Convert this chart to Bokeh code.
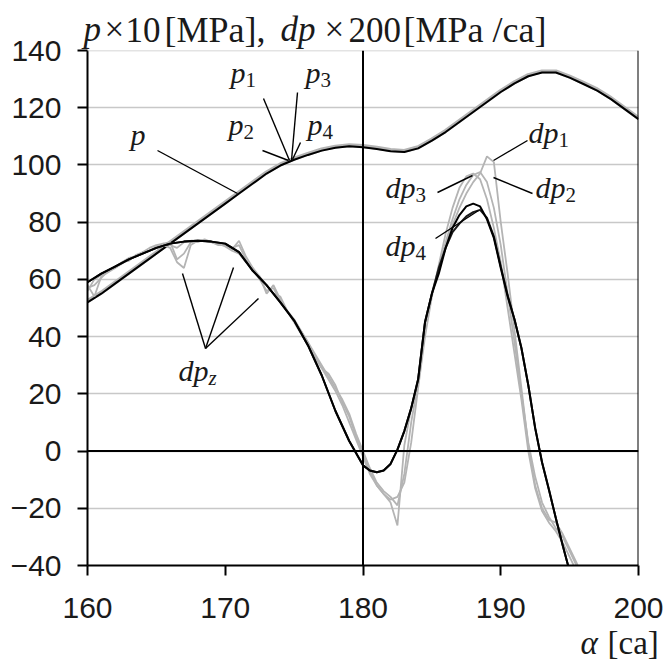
from bokeh.plotting import figure
from bokeh.models import Span, FixedTicker
from bokeh.core.properties import value
from bokeh.embed import file_html
from bokeh.resources import INLINE

# ---------------- data ----------------
p_x = [160, 161, 162, 163, 164, 165, 166, 167, 168, 169, 170, 171, 172, 173, 174, 175,
       176, 177, 178, 179, 180, 181, 182, 183, 184, 185, 186, 187, 188, 189, 190, 191,
       192, 193, 194, 195, 196, 197, 198, 199, 200]
p_y = [52, 55, 58.5, 62, 65.5, 69, 72.5, 76, 79.5, 83, 86.5, 90, 93.5, 97, 99.8, 101.8,
       103.5, 105, 106, 106.5, 106.2, 105.6, 104.8, 104.5, 105.8, 108.5, 111.5, 115, 118.5,
       122, 125.5, 128.5, 131, 132.3, 132.3, 130.5, 128.3, 126, 123, 119.5, 116]

dpz_x = [160, 161, 162, 163, 164, 165, 166, 167, 168, 169, 170, 171, 172, 172.5, 173, 174,
         175, 176, 177, 178, 179, 180, 180.5, 181, 181.5, 182, 182.5, 183, 183.5, 184,
         184.5, 185, 185.5, 186, 186.5, 187, 187.5, 188, 188.5, 189, 189.5, 190, 190.5,
         191, 191.5, 192, 192.5, 193, 193.5, 194, 194.5, 195]
dpz_y = [59, 62, 64.5, 67, 69, 71, 72.5, 73.2, 73.5, 73.2, 72.5, 69.5, 63, 60.5, 58, 52,
         45.6, 37, 26.5, 14, 3.5, -5, -6.8, -7.4, -6.8, -4.5, 0.5, 7, 15, 25,
         45, 55, 62, 71, 78, 82.5, 85.5, 86.5, 85.5, 81, 74.5, 64, 54,
         46, 36, 23, 8, -4, -13.5, -23.5, -33, -42]

dp4_x = [160, 161, 162, 163, 164, 165, 166, 167, 168, 169, 170, 171, 172, 172.5, 173, 174,
         175, 176, 177, 178, 179, 180, 180.5, 181, 181.5, 182, 182.5, 183, 183.5, 184,
         184.5, 185, 185.5, 186, 186.5, 187, 187.5, 188, 188.5, 189, 189.5, 190, 190.5,
         191, 191.5, 192, 192.5, 193, 193.5, 194, 194.5, 195]
dp4_y = [59, 62, 64.5, 67, 69, 71, 72.5, 73.2, 73.5, 73.2, 72.5, 69.5, 63, 60.5, 58, 52,
         45.6, 37, 26.5, 14, 3.5, -5, -6.8, -7.4, -6.8, -4.5, 0.5, 7, 15, 25,
         45, 55, 64, 71, 76.5, 79.5, 82, 83.5, 84.3, 81.5, 75, 64.5, 54.5,
         46, 36, 23, 8, -4, -13.5, -23.5, -33, -42]

dpg_x = [160, 160.5, 161, 161.5, 162, 162.5, 163, 163.5, 164, 164.5, 165, 165.5, 166, 166.5,
         167, 167.5, 168, 168.5, 169, 169.5, 170, 170.5, 171, 171.5, 172, 172.5, 173, 173.5,
         174, 174.5, 175, 175.5, 176, 176.5, 177, 177.5, 178, 178.5, 179, 179.5, 180, 180.5,
         181, 181.5, 182, 182.5, 183, 183.5, 184, 184.5, 185, 185.5, 186, 186.5, 187, 187.5,
         188, 188.5, 189, 189.5, 190, 190.5, 191, 191.5, 192, 192.5, 193, 193.5, 194, 194.5,
         195, 195.5, 196]
dp1_y = [58, 54, 61, 62.5, 64, 65.5, 67, 68, 69, 70, 71, 72.5, 72, 71,
         73, 73.5, 73.5, 73.5, 73, 72.5, 72, 70.5, 73.5, 68, 64, 61, 58, 55,
         54, 49, 46, 42, 38, 33, 29, 27, 23, 17, 12, 5, -1, -7,
         -12, -15, -18, -26, 2, 15, 25, 45, 55, 63, 72, 79, 85, 90,
         94, 97, 103, 101, 80, 62, 42, 22, 2, -12, -20, -24, -25, -29,
         -34, -39, -45]
dp2_y = [57, 58, 60.5, 63, 64.5, 66, 66.5, 68.5, 69.5, 70, 71.5, 72, 71, 66,
         64, 72, 73.5, 73.5, 73, 72.5, 71.5, 70, 69, 66, 64, 60, 56, 57,
         52, 49, 46, 42, 38, 34, 30, 26, 22, 18, 13, 6, 0, -6,
         -11, -14, -16, -19, -8, 10, 24, 44, 55, 64, 73, 81, 88, 93,
         96.5, 97.5, 94, 85, 72, 55, 38, 20, 3, -9, -18, -23, -27, -30,
         -35, -40, -46]
dp3_y = [56, 60, 61.5, 63, 64, 66, 67.5, 68, 69.5, 71, 72, 72.5, 73, 67,
         69, 73, 73, 74, 73, 72, 72, 71, 72, 67, 63, 61, 55, 58,
         53, 49, 45, 41, 37, 33, 29, 25, 21, 16, 10, 4, -2, -8,
         -12, -15, -17, -16, -11, 3, 22, 40, 54, 65, 76, 85, 92, 96,
         97, 95, 88, 78, 66, 50, 34, 18, 0, -13, -21, -25, -28, -32,
         -37, -42, -47]

x_ticks = [160, 170, 180, 190, 200]
y_ticks = [-40, -20, 0, 20, 40, 60, 80, 100, 120, 140]

# --------------- layout helpers (pixel -> data) ---------------
FL, FR, FT, FB = 87, 638, 50, 565
W, H = 666, 659
TEXT_DY = -8  # compensation for the text glyph's baseline placement


def dx(px):
    return 160 + (px - FL) * 40.0 / (FR - FL)


def dy(py):
    return 140 - (py - FT) * 180.0 / (FB - FT)


p = figure(width=W, height=H, frame_width=FR - FL, frame_height=FB - FT,
           min_border_left=FL, min_border_right=W - FR, min_border_top=FT,
           min_border_bottom=H - FB, x_range=(160, 200), y_range=(-40, 140),
           output_backend="svg", toolbar_location=None, tools="",
           background_fill_color="white", border_fill_color="white")
p.outline_line_color = None
p.xgrid.grid_line_color = None
p.ygrid.grid_line_color = "#c8c8c8"
p.ygrid.grid_line_width = 1.5

TICK_FONT = "Liberation Sans"
for ax in (p.xaxis[0], p.yaxis[0]):
    ax.axis_line_color = "black"
    ax.axis_line_width = 2
    ax.major_tick_line_color = "black"
    ax.major_tick_line_width = 2
    ax.major_tick_out = 10
    ax.major_tick_in = 0
    ax.minor_tick_line_color = None
    ax.major_label_text_font = TICK_FONT
    ax.major_label_text_font_size = "30px"
    ax.major_label_text_color = "#1a1a1a"
p.xaxis[0].ticker = FixedTicker(ticks=x_ticks)
p.yaxis[0].ticker = FixedTicker(ticks=y_ticks)
p.yaxis[0].major_label_standoff = 16
p.xaxis[0].major_label_standoff = 22

p.add_layout(Span(location=140, dimension="width", line_color="#c8c8c8", line_width=1.5))
p.add_layout(Span(location=180, dimension="height", line_color="black", line_width=2))
p.add_layout(Span(location=0, dimension="width", line_color="black", line_width=2))
p.add_layout(Span(location=200, dimension="height", line_color="black", line_width=2))

GRAY = "#b4b4b4"
# pressure curves p1..p4 (grey, almost identical) and p (black)
p.line(p_x, [y + 0.4 for y in p_y], line_color=GRAY, line_width=4)
p.line(p_x, p_y, line_color="black", line_width=2)

# derivative curves
for ys in (dp1_y, dp2_y, dp3_y):
    p.line(dpg_x, ys, line_color=GRAY, line_width=1.8)
p.line(dp4_x, dp4_y, line_color="#1a1a1a", line_width=2)
p.line(dpz_x, dpz_y, line_color="black", line_width=2)

# ---------------- texts (overlay level, so they are not clipped) ----------------
SERIF = "Liberation Serif"
TXT = "#1a1a1a"


def lab(px, py, text, size=30, italic=True):
    p.text(x=[dx(px)], y=[dy(py + TEXT_DY)], text=[text], text_font=value(SERIF),
           text_font_style="italic" if italic else "normal",
           text_font_size=f"{size}px", text_color=TXT,
           text_baseline="alphabetic", text_align="left", level="overlay")


def sub_label(px, py, main, sub, sub_italic=False, main_w=None):
    lab(px, py, main, 30, True)
    w = main_w if main_w is not None else 15 * len(main)
    lab(px + w, py + 7, sub, 21, sub_italic)


def pointer(x0, y0, x1, y1):
    p.line([dx(x0), dx(x1)], [dy(y0), dy(y1)], line_color="black", line_width=1.4)


# title
lab(83, 37, "p", 35, True)
lab(104, 37, "\u00d7", 35, False)
lab(125, 37, "10", 35, False)
lab(164, 37, "[MPa],", 36, False)
lab(280, 37, "dp", 35, True)
lab(324, 37, "\u00d7", 35, False)
lab(348, 37, "200", 35, False)
lab(403, 37, "[MPa /ca]", 36, False)

# x-axis title
lab(580, 650, "\u03b1", 33, True)
lab(607, 650, "[ca]", 33, False)

# p labels
lab(130, 142, "p")
pointer(157, 150, 237, 193)
sub_label(230, 80, "p", "1")
sub_label(305, 80, "p", "3")
sub_label(228, 132, "p", "2")
sub_label(307, 132, "p", "4")
pointer(263, 98, 289, 160)
pointer(297, 92, 291, 160)
pointer(262, 150, 288, 160)
pointer(300, 142, 292, 159)

# dp labels
sub_label(528, 140, "dp", "1", main_w=30)
sub_label(535, 195, "dp", "2", main_w=30)
sub_label(385, 195, "dp", "3", main_w=30)
sub_label(385, 253, "dp", "4", main_w=30)
pointer(527, 140, 493, 160)
pointer(532, 193, 493, 177)
pointer(437, 192, 472, 175)
pointer(435, 238, 478, 210)

sub_label(178, 378, "dp", "z", sub_italic=True, main_w=30)
pointer(205, 348, 182, 273)
pointer(205, 348, 233, 267)
pointer(205, 348, 258, 298)

open("out.html", "w").write(file_html(p, INLINE))
